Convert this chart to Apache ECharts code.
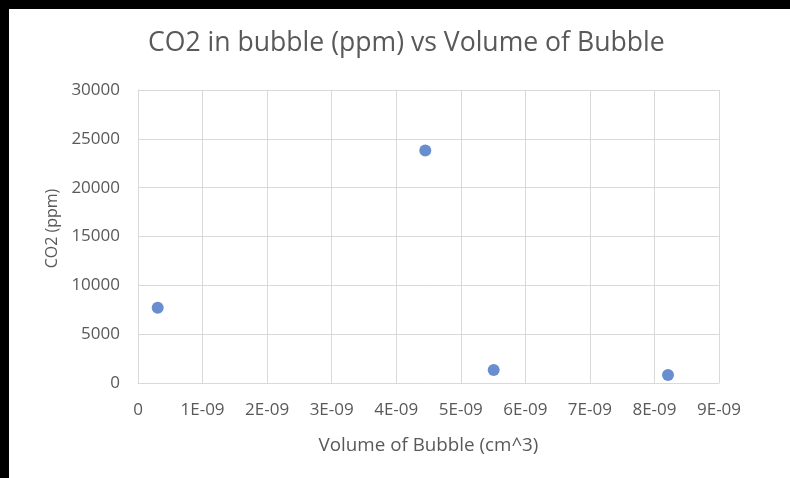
<!DOCTYPE html>
<html>
<head>
<meta charset="utf-8">
<script src="https://cdn.jsdelivr.net/npm/echarts@6/dist/echarts.min.js"></script>
<style>
html,body{margin:0;padding:0;background:#000;width:790px;height:478px;overflow:hidden;}
#chart{position:absolute;left:9px;top:9px;width:781px;height:469px;background:#fff;}
</style>
</head>
<body>
<div id="chart"></div>
<script>
const titleText = "CO2 in bubble (ppm) vs Volume of Bubble";
const xAxisName = "Volume of Bubble (cm^3)";
const yAxisName = "CO2 (ppm)";
const volumes = [0.305e-9, 4.45e-9, 5.51e-9, 8.21e-9];
const co2 = [7700, 23800, 1320, 820];
const xMin = 0, xMax = 9e-9, xStep = 1e-9;
const yMin = 0, yMax = 30000, yStep = 5000;

const data = volumes.map((v, i) => [v, co2[i]]);
const font = "'Open Sans', 'Liberation Sans', sans-serif";
const txt = '#595959';
const gridCol = '#d9d9d9';

const chart = echarts.init(document.getElementById('chart'), null, {renderer: 'canvas'});
chart.setOption({
  animation: false,
  backgroundColor: '#fff',
  title: {
    text: titleText, left: 134, top: 16,
    textStyle: {fontFamily: font, fontSize: 26.6, fontWeight: 'normal', color: txt}
  },
  grid: {left: 129, top: 81, right: 71, bottom: 95, containLabel: false},
  xAxis: {
    type: 'value', min: xMin, max: xMax, interval: xStep,
    name: xAxisName, nameLocation: 'middle', nameGap: 53,
    nameTextStyle: {fontFamily: font, fontSize: 18.8, color: txt},
    axisLine: {show: true, lineStyle: {color: gridCol}},
    axisTick: {show: false},
    splitLine: {show: true, lineStyle: {color: gridCol, width: 1}},
    axisLabel: {
      fontFamily: font, fontSize: 17, color: txt, margin: 19,
      formatter: v => { const n = Math.round(v / 1e-9); return n === 0 ? '0' : n + 'E-09'; }
    }
  },
  yAxis: {
    type: 'value', min: yMin, max: yMax, interval: yStep,
    name: yAxisName, nameLocation: 'middle', nameGap: 75, nameRotate: 90,
    nameTextStyle: {fontFamily: font, fontSize: 16, color: txt, padding: [0, 0, 0, 16]},
    axisLine: {show: true, lineStyle: {color: gridCol}},
    axisTick: {show: false},
    splitLine: {show: true, lineStyle: {color: gridCol, width: 1}},
    axisLabel: {fontFamily: font, fontSize: 17, color: txt, margin: 18,
      formatter: v => String(v)}
  },
  series: [{
    type: 'scatter', data: data, symbol: 'circle', symbolSize: 12,
    itemStyle: {color: '#4472C4'}
  }]
});
</script>
</body>
</html>
